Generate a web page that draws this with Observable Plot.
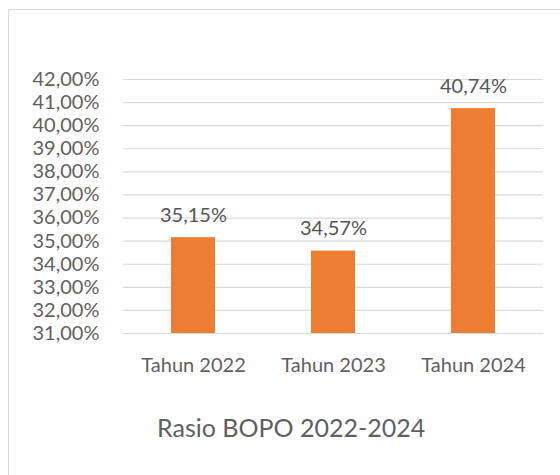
<!DOCTYPE html>
<html>
<head>
<meta charset="utf-8">
<script src="https://cdn.jsdelivr.net/npm/d3@7"></script>
<script src="https://cdn.jsdelivr.net/npm/@observablehq/plot@0.6"></script>
<style>
  html, body { margin: 0; padding: 0; background: #fff; width: 560px; height: 475px; overflow: hidden; }
  #frame { position: absolute; left: 8px; top: 9px; width: 560px; height: 480px; border: 1px solid #d9d9d9; box-sizing: border-box; }
  #chart { position: absolute; left: 0; top: 0; }
  #title { position: absolute; left: 157px; top: 415px; font-family: Lato, sans-serif; font-weight: 400; font-size: 25px; line-height: 1; color: #5f5f5f; white-space: nowrap; }
</style>
</head>
<body>
<div id="frame"></div>
<div id="chart"></div>
<div id="title">Rasio BOPO 2022-2024</div>
<script>
const categories = ["Tahun 2022", "Tahun 2023", "Tahun 2024"];
const values = [35.15, 34.57, 40.74];
const yTicks = [31, 32, 33, 34, 35, 36, 37, 38, 39, 40, 41, 42];

const fmt = v => v.toFixed(2).replace(".", ",") + "%";
const data = categories.map((c, i) => ({ year: c, value: values[i] }));
const yMin = yTicks[0];
const yMax = yTicks[yTicks.length - 1];

const chart = Plot.plot({
  width: 560,
  height: 385,
  marginLeft: 123,
  marginRight: 17,
  marginTop: 79,
  marginBottom: 52,
  style: { fontFamily: "Lato, sans-serif", fontWeight: 400, fontSize: "20px", color: "#5f5f5f", background: "transparent", overflow: "visible" },
  x: { domain: categories, paddingInner: 0.686, paddingOuter: 0.343, label: null },
  y: { domain: [yMin, yMax], label: null },
  marks: [
    Plot.ruleY(yTicks, { stroke: "#d9d9d9", strokeWidth: 1.2 }),
    Plot.axisY({ ticks: yTicks, tickFormat: fmt, tickSize: 0, tickPadding: 24, fill: "#5f5f5f", label: null }),
    Plot.axisX({ tickSize: 0, tickPadding: 24, fill: "#5f5f5f", label: null }),
    Plot.barY(data, { x: "year", y1: yMin, y2: "value", fill: "#ED7D31" }),
    Plot.text(data, { x: "year", y: "value", text: d => fmt(d.value), lineAnchor: "bottom", dy: -16, fill: "#555555", fontSize: 20 })
  ]
});
document.getElementById("chart").appendChild(chart);
</script>
</body>
</html>
